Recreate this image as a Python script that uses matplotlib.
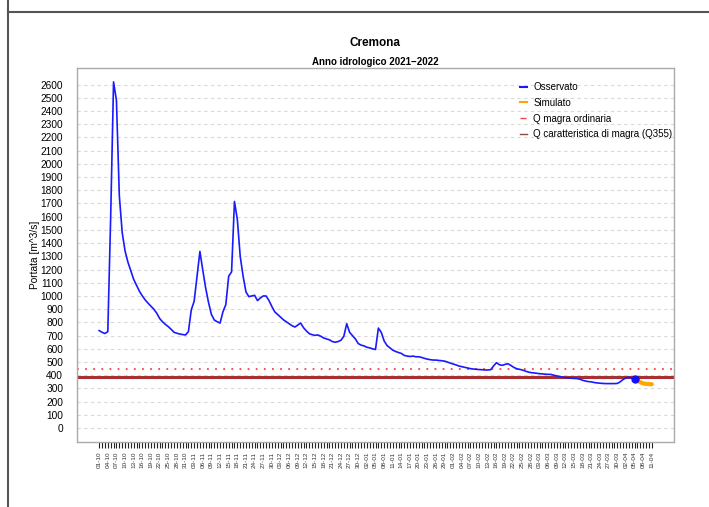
import pandas as pd
import matplotlib.pyplot as plt
from matplotlib.lines import Line2D

plt.rcParams['font.family'] = ['Liberation Sans', 'DejaVu Sans']

start = pd.Timestamp("2021-10-01")

# portata osservata giornaliera (m^3/s), dal 01-10-2021
observed = [
    738, 725, 716, 730, 1600, 2620, 2480, 1760, 1480, 1340,
    1255, 1190, 1125, 1080, 1035, 1000, 970, 945, 922, 900,
    870, 830, 805, 785, 768, 748, 725, 718, 712, 708,
    705, 730, 895, 960, 1150, 1337, 1195, 1060, 950, 860,
    818, 805, 795, 880, 935, 1150, 1182, 1715, 1580, 1300,
    1150, 1030, 995, 1000, 1005, 965, 985, 1000, 1000, 965,
    920, 880, 860, 840, 820, 805, 790, 775, 765, 780,
    795, 760, 735, 715, 707, 702, 705, 695, 682, 675,
    668, 655, 650, 655, 665, 695, 790, 725, 700, 675,
    640, 628, 622, 612, 607, 600, 595, 757, 725, 660,
    625, 607, 590, 580, 572, 565, 550, 545, 542, 545,
    540, 540, 535, 528, 522, 518, 515, 515, 512, 510,
    507, 500, 492, 485, 478, 470, 465, 460, 455, 450,
    447, 445, 443, 442, 440, 440, 442, 470, 495, 480,
    475, 482, 487, 475, 460, 450, 445, 440, 432, 425,
    420, 418, 415, 412, 410, 408, 407, 406, 400, 395,
    390, 385, 382, 380, 378, 376, 375, 370, 362, 356,
    352, 350, 345, 342, 340, 338, 337, 337, 337, 337,
    338, 350, 368, 380, 385, 378, 370,
]
# portata simulata, dall'ultimo dato osservato
simulated = [370, 360, 347, 338, 335, 333, 332]

q_magra = 450
q355 = 387

obs_dates = pd.date_range(start, periods=len(observed), freq="D")
sim_dates = pd.date_range(obs_dates[-1], periods=len(simulated), freq="D")
all_dates = pd.date_range(start, sim_dates[-1], freq="D")
tick_dates = all_dates[::3]
tick_labels = [d.strftime("%d-%m") for d in tick_dates]

fig = plt.figure(figsize=(7.09, 5.07), dpi=100)
ax = fig.add_axes([77 / 709, 1 - 442 / 507, 597 / 709, 374 / 507])

ax.set_yticks(range(0, 2700, 100))
ax.yaxis.grid(True, color="#d9d9d9", linestyle=(0, (3, 3)), lw=0.8)
ax.set_axisbelow(True)

ax.axhline(q_magra, color="#ff4040", linestyle=(0, (1, 3.5)), lw=1.3)
ax.axhline(q355, color="#a83030", lw=2.2)

ax.plot(obs_dates, observed, color="#1a1aff", lw=1.2)
ax.plot(sim_dates, simulated, color="#ffa500", lw=3, solid_capstyle="round")
ax.plot(obs_dates[-1:], observed[-1:], "o", color="#1010ff", ms=5)

pad = pd.Timedelta(days=7.7)
ax.set_xlim(all_dates[0] - pad, all_dates[-1] + pad)
ax.set_ylim(-105, 2725)

ax.set_xticks(tick_dates)
ax.set_xticklabels(tick_labels, rotation=90, fontsize=4.6, color="#333333")
ax.set_xticks(all_dates, minor=True)
ax.tick_params(axis="x", which="both", length=4, width=0.8, color="#222222", pad=3)
ax.tick_params(axis="y", length=0, pad=10, labelsize=7.3)

for s in ax.spines.values():
    s.set_color("#aaaaaa")
    s.set_linewidth(1)

ax.set_ylabel("Portata [m^3/s]", fontsize=7.3, labelpad=0)

handles = [
    Line2D([], [], color="#1a1aff", lw=1.5),
    Line2D([], [], color="#ffa500", lw=1.5),
    Line2D([], [], color="#ff4040", marker="_", ms=4, linestyle="none"),
    Line2D([], [], color="#8b4a4a", lw=1),
]
labels = ["Osservato", "Simulato", "Q magra ordinaria",
          "Q caratteristica di magra (Q355)"]
ax.legend(handles, labels, loc="upper left", bbox_to_anchor=(0.726, 0.848),
          bbox_transform=fig.transFigure, frameon=False, fontsize=7.0,
          handlelength=0.8, handletextpad=0.6, labelspacing=0.6, borderpad=0)

cx = (77 + 674) / 2 / 709
fig.text(cx, 1 - 43 / 507, "Cremona", ha="center", va="center",
         fontsize=8.5, weight="bold")
fig.text(cx, 1 - 62 / 507, "Anno idrologico 2021\u22122022", ha="center",
         va="center", fontsize=7, weight="bold")

fig.add_artist(Line2D([8 / 709, 8 / 709], [0, 1], transform=fig.transFigure,
                      color="#555555", lw=1.5))
fig.add_artist(Line2D([8 / 709, 1], [1 - 12 / 507, 1 - 12 / 507],
                      transform=fig.transFigure, color="#555555", lw=1.5))

fig.savefig("out.png", dpi=100)
